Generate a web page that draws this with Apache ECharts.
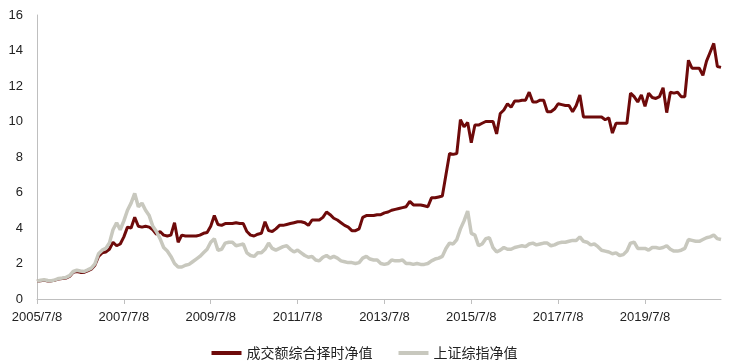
<!DOCTYPE html>
<html><head><meta charset="utf-8">
<script src="https://cdn.jsdelivr.net/npm/echarts@6/dist/echarts.min.js"></script>
<style>html,body{margin:0;padding:0;background:#fff}#c{width:729px;height:363px}</style>
</head><body><div id="c"></div>
<script>
const categories = [
"2005/7/8","2005/8/8","2005/9/8","2005/10/8","2005/11/8","2005/12/8",
"2006/1/8","2006/2/8","2006/3/8","2006/4/8","2006/5/8","2006/6/8","2006/7/8","2006/8/8","2006/9/8","2006/10/8","2006/11/8","2006/12/8",
"2007/1/8","2007/2/8","2007/3/8","2007/4/8","2007/5/8","2007/6/8","2007/7/8","2007/8/8","2007/9/8","2007/10/8","2007/11/8","2007/12/8",
"2008/1/8","2008/2/8","2008/3/8","2008/4/8","2008/5/8","2008/6/8","2008/7/8","2008/8/8","2008/9/8","2008/10/8","2008/11/8","2008/12/8",
"2009/1/8","2009/2/8","2009/3/8","2009/4/8","2009/5/8","2009/6/8","2009/7/8","2009/8/8","2009/9/8","2009/10/8","2009/11/8","2009/12/8",
"2010/1/8","2010/2/8","2010/3/8","2010/4/8","2010/5/8","2010/6/8","2010/7/8","2010/8/8","2010/9/8","2010/10/8","2010/11/8","2010/12/8",
"2011/1/8","2011/2/8","2011/3/8","2011/4/8","2011/5/8","2011/6/8","2011/7/8","2011/8/8","2011/9/8","2011/10/8","2011/11/8","2011/12/8",
"2012/1/8","2012/2/8","2012/3/8","2012/4/8","2012/5/8","2012/6/8","2012/7/8","2012/8/8","2012/9/8","2012/10/8","2012/11/8","2012/12/8",
"2013/1/8","2013/2/8","2013/3/8","2013/4/8","2013/5/8","2013/6/8","2013/7/8","2013/8/8","2013/9/8","2013/10/8","2013/11/8","2013/12/8",
"2014/1/8","2014/2/8","2014/3/8","2014/4/8","2014/5/8","2014/6/8","2014/7/8","2014/8/8","2014/9/8","2014/10/8","2014/11/8","2014/12/8",
"2015/1/8","2015/2/8","2015/3/8","2015/4/8","2015/5/8","2015/6/8","2015/7/8","2015/8/8","2015/9/8","2015/10/8","2015/11/8","2015/12/8",
"2016/1/8","2016/2/8","2016/3/8","2016/4/8","2016/5/8","2016/6/8","2016/7/8","2016/8/8","2016/9/8","2016/10/8","2016/11/8","2016/12/8",
"2017/1/8","2017/2/8","2017/3/8","2017/4/8","2017/5/8","2017/6/8","2017/7/8","2017/8/8","2017/9/8","2017/10/8","2017/11/8","2017/12/8",
"2018/1/8","2018/2/8","2018/3/8","2018/4/8","2018/5/8","2018/6/8","2018/7/8","2018/8/8","2018/9/8","2018/10/8","2018/11/8","2018/12/8",
"2019/1/8","2019/2/8","2019/3/8","2019/4/8","2019/5/8","2019/6/8","2019/7/8","2019/8/8","2019/9/8","2019/10/8","2019/11/8","2019/12/8",
"2020/1/8","2020/2/8","2020/3/8","2020/4/8","2020/5/8","2020/6/8","2020/7/8","2020/8/8","2020/9/8","2020/10/8","2020/11/8","2020/12/8",
"2021/1/8","2021/2/8","2021/3/8","2021/4/8"
];
const timingNav = [
1.00,1.03,1.05,1.02,1.02,1.06,
1.13,1.15,1.18,1.27,1.50,1.55,1.50,1.50,1.58,1.68,1.90,2.40,
2.60,2.65,2.80,3.20,3.00,3.10,3.50,4.05,4.00,4.60,4.10,4.05,
4.10,4.05,3.90,3.65,3.80,3.60,3.55,3.60,4.30,3.20,3.60,3.55,
3.55,3.55,3.55,3.60,3.70,3.75,4.10,4.70,4.20,4.15,4.25,4.25,
4.25,4.30,4.25,4.25,3.80,3.60,3.55,3.65,3.70,4.35,3.85,3.80,
3.95,4.15,4.15,4.20,4.25,4.30,4.35,4.35,4.30,4.15,4.45,4.45,
4.45,4.60,4.90,4.75,4.55,4.45,4.30,4.15,4.05,3.85,3.85,3.95,
4.60,4.70,4.70,4.70,4.75,4.75,4.85,4.90,5.00,5.05,5.10,5.15,
5.20,5.50,5.30,5.30,5.30,5.25,5.20,5.70,5.70,5.75,5.80,7.00,
8.20,8.15,8.20,10.10,9.70,9.95,8.80,9.80,9.80,9.90,10.00,10.00,
10.00,9.30,10.45,10.65,11.00,10.80,11.15,11.15,11.20,11.20,11.65,11.10,
11.10,11.20,11.20,10.55,10.55,10.70,11.00,10.95,10.90,10.90,10.55,10.90,
11.50,10.25,10.25,10.25,10.25,10.25,10.25,10.10,10.20,9.35,9.90,9.90,
9.90,9.90,11.60,11.40,11.10,11.50,10.85,11.60,11.35,11.30,11.40,11.90,
10.50,11.65,11.60,11.65,11.40,11.40,13.45,13.00,13.00,13.00,12.60,13.40,
13.90,14.40,13.10,13.05
];
const indexNav = [
1.00,1.06,1.08,1.04,1.03,1.08,
1.16,1.18,1.22,1.32,1.55,1.62,1.58,1.55,1.64,1.74,1.98,2.55,
2.75,2.85,3.15,3.90,4.30,3.90,4.40,5.00,5.40,5.95,5.20,5.40,
5.00,4.70,4.10,3.80,3.40,2.90,2.70,2.40,2.00,1.80,1.80,1.90,
1.95,2.10,2.25,2.40,2.60,2.80,3.20,3.40,2.75,2.80,3.15,3.20,
3.20,3.00,3.05,3.10,2.60,2.45,2.40,2.60,2.60,2.80,3.15,2.85,
2.75,2.85,2.95,3.00,2.80,2.65,2.75,2.60,2.45,2.35,2.40,2.20,
2.15,2.35,2.45,2.30,2.40,2.30,2.15,2.10,2.05,2.05,2.00,2.05,
2.30,2.40,2.25,2.20,2.20,2.00,1.95,2.00,2.20,2.15,2.15,2.20,
2.00,2.00,1.95,2.00,1.95,1.95,2.00,2.15,2.25,2.30,2.40,2.85,
3.15,3.10,3.35,3.95,4.40,4.95,3.70,3.60,3.00,3.10,3.40,3.45,
2.90,2.65,2.75,2.90,2.80,2.80,2.90,2.95,3.00,2.95,3.10,3.15,
3.05,3.10,3.15,3.15,3.00,3.05,3.15,3.20,3.20,3.25,3.30,3.30,
3.50,3.25,3.20,3.05,3.10,2.95,2.75,2.70,2.65,2.55,2.60,2.45,
2.50,2.70,3.15,3.20,2.85,2.85,2.85,2.75,2.90,2.90,2.85,2.90,
3.00,2.80,2.70,2.70,2.75,2.85,3.35,3.30,3.25,3.25,3.35,3.45,
3.50,3.60,3.40,3.35
];
const seriesNames = ["成交额综合择时净值", "上证综指净值"];
const yTicks = {min: 0, max: 16, interval: 2};

const chart = echarts.init(document.getElementById('c'), null, {renderer: 'canvas'});
const axisFont = "'Liberation Sans', Arial, sans-serif";
chart.setOption({
  animation: false,
  backgroundColor: '#fff',
  grid: {left: 37, right: 8, top: 15, bottom: 64, containLabel: false},
  legend: {
    data: seriesNames,
    top: 341,
    left: 'center',
    itemWidth: 30,
    itemHeight: 4,
    itemGap: 26,
    icon: 'rect',
    textStyle: {fontFamily: "'Noto Sans CJK SC', sans-serif", fontSize: 14, color: '#222'}
  },
  xAxis: {
    type: 'category',
    data: categories,
    boundaryGap: false,
    axisLine: {lineStyle: {color: '#BFBFBF', width: 1}},
    axisTick: {show: true, interval: 23, length: 5, lineStyle: {color: '#BFBFBF'}},
    axisLabel: {interval: 23, margin: 12, fontSize: 13, color: '#222', fontFamily: axisFont, hideOverlap: false},
    splitLine: {show: false}
  },
  yAxis: {
    type: 'value',
    min: yTicks.min, max: yTicks.max, interval: yTicks.interval,
    axisLine: {show: true, lineStyle: {color: '#BFBFBF', width: 1}},
    axisTick: {show: false},
    axisLabel: {margin: 14, fontSize: 13, color: '#222', fontFamily: axisFont},
    splitLine: {show: false}
  },
  series: [
    {name: seriesNames[0], type: 'line', data: timingNav, showSymbol: false, symbol: 'none',
     lineStyle: {color: '#6E0A0A', width: 3}, itemStyle: {color: '#6E0A0A'}},
    {name: seriesNames[1], type: 'line', data: indexNav, showSymbol: false, symbol: 'none',
     lineStyle: {color: '#C8C8BE', width: 3.5}, itemStyle: {color: '#C8C8BE'}}
  ]
});
</script></body></html>
